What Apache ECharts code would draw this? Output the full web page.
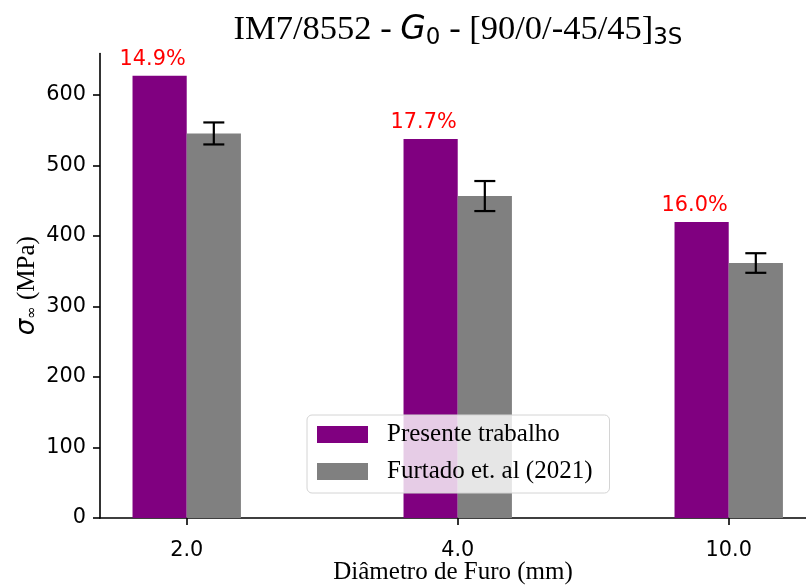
<!DOCTYPE html>
<html>
<head>
<meta charset="utf-8">
<script src="https://cdn.jsdelivr.net/npm/echarts@6/dist/echarts.min.js"></script>
<style>
html,body{margin:0;padding:0;background:#fff;}
#chart{width:806px;height:585px;}
</style>
</head>
<body>
<div id="chart"></div>
<script>
// ---- data ----
const categories = ['2.0', '4.0', '10.0'];
const presente = [627.5, 537.6, 419.8];
const furtado = [545.5, 456.7, 361.7];
const furtadoErr = [15.6, 21.3, 13.9];
const pctLabels = ['14.9%', '17.7%', '16.0%'];
const yTicks = [0, 100, 200, 300, 400, 500, 600];
const seriesNames = ['Presente trabalho', 'Furtado et. al (2021)'];
const barWidthUnits = 0.2;

// ---- layout ----
const gridLeft = 100, gridTop = 53.5, gridBottom = 67;
const xMin = -0.32, pxPerUnit = 271;
const xMax = xMin + (806 - gridLeft) / pxPerUnit;
const yMax = 658.9;

const serif = '"Liberation Serif", "Times New Roman", serif';
const sans = '"DejaVu Sans", sans-serif';

const chart = echarts.init(document.getElementById('chart'), null, { renderer: 'canvas' });

const catIdx = categories.map((c, i) => i);

const option = {
  backgroundColor: '#ffffff',
  animation: false,
  grid: { left: gridLeft, right: 0, top: gridTop, bottom: gridBottom, containLabel: false, outerBoundsMode: 'none' },
  graphic: [{
    type: 'text',
    x: 458, y: 8,
    z: 10,
    style: {
      text: '{a|IM7/8552 - }{g|G}{s|0}{a| - [90/0/-45/45]}{s|3S}',
      align: 'center',
      verticalAlign: 'top',
      rich: {
        a: { fontFamily: serif, fontSize: 34.5, color: '#000', lineHeight: 44, verticalAlign: 'middle' },
        g: { fontFamily: sans, fontStyle: 'italic', fontSize: 33, color: '#000', lineHeight: 44, verticalAlign: 'middle' },
        s: { fontFamily: sans, fontSize: 23, color: '#000', lineHeight: 44, padding: [16, 0, 0, 0], verticalAlign: 'middle' }
      }
    }
  }],
  legend: {
    orient: 'vertical',
    left: 307, top: 415,
    padding: [7, 17, 9, 10],
    itemGap: 12,
    itemWidth: 51, itemHeight: 17,
    icon: 'rect',
    backgroundColor: 'rgba(255,255,255,0.8)',
    borderColor: '#d4d4d4',
    borderWidth: 1,
    borderRadius: 5,
    data: seriesNames,
    textStyle: { fontFamily: serif, fontSize: 25, color: '#000', padding: [0, 0, 0, 14] }
  },
  xAxis: {
    type: 'value',
    min: xMin, max: xMax,
    name: 'Diâmetro de Furo (mm)',
    nameLocation: 'middle',
    nameMoveOverlap: false,
    nameGap: 42,
    nameTextStyle: { fontFamily: serif, fontSize: 25, color: '#000' },
    axisLine: { show: true, onZero: false, lineStyle: { color: '#000', width: 1.6 } },
    axisTick: { show: true, customValues: catIdx, length: 7, lineStyle: { color: '#000', width: 1.6 } },
    axisLabel: {
      customValues: catIdx,
      margin: 22,
      fontFamily: sans, fontSize: 20.8, color: '#000',
      formatter: v => categories[Math.round(v)]
    },
    splitLine: { show: false }
  },
  yAxis: {
    type: 'value',
    min: 0, max: yMax,
    name: '{s|σ}{i|∞}{n| (MPa)}',
    nameLocation: 'middle',
    nameMoveOverlap: false,
    nameGap: 58,
    nameRotate: 90,
    nameTextStyle: {
      rich: {
        s: { fontFamily: sans, fontStyle: 'italic', fontSize: 26, color: '#000', lineHeight: 30 },
        i: { fontFamily: sans, fontSize: 15, color: '#000', lineHeight: 30, padding: [10, 0, 0, 0] },
        n: { fontFamily: serif, fontSize: 25, color: '#000', lineHeight: 30 }
      }
    },
    axisLine: { show: true, onZero: false, lineStyle: { color: '#000', width: 1.6 } },
    axisTick: { show: true, customValues: yTicks, length: 7, lineStyle: { color: '#000', width: 1.6 } },
    axisLabel: {
      customValues: yTicks,
      margin: 14,
      fontFamily: sans, fontSize: 20.8, color: '#000'
    },
    splitLine: { show: false }
  },
  series: [
    {
      name: seriesNames[0],
      type: 'bar',
      barWidth: barWidthUnits * pxPerUnit,
      barGap: '-100%',
      itemStyle: { color: '#800080' },
      data: presente.map((v, i) => [i - barWidthUnits / 2, v]),
      label: {
        show: true,
        position: 'top',
        distance: 6,
        offset: [-7, 0],
        color: '#ff0000',
        fontFamily: sans,
        fontSize: 20.8,
        formatter: p => pctLabels[p.dataIndex]
      },
      z: 2
    },
    {
      name: seriesNames[1],
      type: 'bar',
      barWidth: barWidthUnits * pxPerUnit,
      barGap: '-100%',
      itemStyle: { color: '#808080' },
      data: furtado.map((v, i) => [i + barWidthUnits / 2, v]),
      z: 2
    },
    {
      name: 'err',
      type: 'custom',
      z: 5,
      silent: true,
      data: furtado.map((v, i) => [i + barWidthUnits / 2, v - furtadoErr[i], v + furtadoErr[i]]),
      renderItem: function (params, api) {
        const x = api.value(0);
        const lo = api.coord([x, api.value(1)]);
        const hi = api.coord([x, api.value(2)]);
        const cap = 10.5;
        const st = { stroke: '#000', lineWidth: 2.2 };
        return {
          type: 'group',
          children: [
            { type: 'line', shape: { x1: lo[0], y1: lo[1], x2: hi[0], y2: hi[1] }, style: st },
            { type: 'line', shape: { x1: lo[0] - cap, y1: lo[1], x2: lo[0] + cap, y2: lo[1] }, style: st },
            { type: 'line', shape: { x1: hi[0] - cap, y1: hi[1], x2: hi[0] + cap, y2: hi[1] }, style: st }
          ]
        };
      }
    }
  ]
};

chart.setOption(option);
</script>
</body>
</html>
